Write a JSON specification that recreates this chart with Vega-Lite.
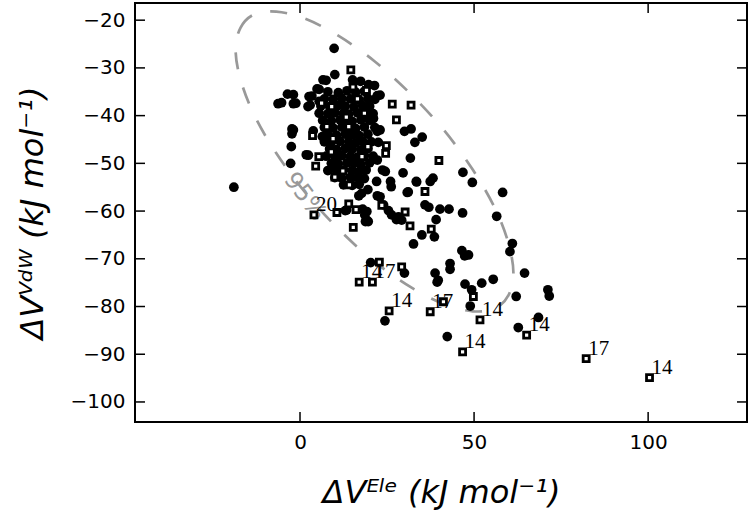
{
  "$schema": "https://vega.github.io/schema/vega-lite/v6.json",
  "width": 612,
  "height": 419,
  "autosize": "none",
  "padding": {"left": 135, "top": 3, "right": 3, "bottom": 92},
  "background": "white",
  "config": {
    "view": {"stroke": "black", "strokeWidth": 2},
    "axis": {"grid": false, "domain": false, "ticks": false,
      "labelFont": "DejaVu Sans", "labelFontSize": 20, "labelColor": "black", "labelPadding": 10,
      "titleFont": "DejaVu Sans", "titleFontSize": 32, "titleFontWeight": "normal", "titleColor": "black", "titleFontStyle": "italic"}
  },
  "datasets": {
    "circles": [
      {"x": 9.8, "y": -25.9}, {"x": 10.0, "y": -31.4}, {"x": 6.6, "y": -32.5}, {"x": 4.9, "y": -34.4}, {"x": -3.6, "y": -35.5},
      {"x": -1.9, "y": -35.6}, {"x": -6.3, "y": -37.5}, {"x": -1.9, "y": -37.5}, {"x": 2.6, "y": -36.0}, {"x": 2.3, "y": -38.1},
      {"x": 15.1, "y": -32.5}, {"x": 17.4, "y": -32.8}, {"x": 19.7, "y": -33.5}, {"x": 21.4, "y": -33.7}, {"x": 22.2, "y": -35.8},
      {"x": -2.3, "y": -42.8}, {"x": -2.3, "y": -43.8}, {"x": -2.5, "y": -46.5}, {"x": 1.8, "y": -48.2}, {"x": -2.7, "y": -50.0},
      {"x": -19.0, "y": -55.0}, {"x": 3.8, "y": -43.2}, {"x": 6.4, "y": -44.4}, {"x": 19.9, "y": -40.7}, {"x": 22.2, "y": -43.3},
      {"x": 30.0, "y": -43.3}, {"x": 31.9, "y": -42.8}, {"x": 35.1, "y": -44.5}, {"x": 33.0, "y": -45.6}, {"x": 31.7, "y": -48.9},
      {"x": 29.6, "y": -52.0}, {"x": 24.5, "y": -51.7}, {"x": 22.0, "y": -53.8}, {"x": 26.0, "y": -53.8}, {"x": 26.2, "y": -54.9},
      {"x": 30.8, "y": -56.1}, {"x": 33.4, "y": -53.8}, {"x": 37.4, "y": -53.8}, {"x": 38.2, "y": -53.1}, {"x": 46.8, "y": -51.9},
      {"x": 49.5, "y": -54.0}, {"x": 58.2, "y": -56.1}, {"x": 56.5, "y": -61.1}, {"x": 46.7, "y": -60.4}, {"x": 40.2, "y": -59.6},
      {"x": 42.8, "y": -59.6}, {"x": 35.9, "y": -58.7}, {"x": 37.0, "y": -59.2}, {"x": 39.1, "y": -61.8}, {"x": 22.2, "y": -56.8},
      {"x": 24.0, "y": -58.7}, {"x": 25.4, "y": -59.9}, {"x": 26.3, "y": -60.8}, {"x": 27.7, "y": -61.8}, {"x": 18.0, "y": -59.6},
      {"x": 18.6, "y": -60.8}, {"x": 18.8, "y": -62.2}, {"x": 16.9, "y": -56.8}, {"x": 19.5, "y": -55.5}, {"x": 13.0, "y": -59.9},
      {"x": 19.6, "y": -62.2}, {"x": 35.0, "y": -65.0}, {"x": 32.6, "y": -66.9}, {"x": 38.6, "y": -65.4}, {"x": 46.5, "y": -68.3},
      {"x": 48.4, "y": -69.2}, {"x": 47.3, "y": -69.4}, {"x": 43.1, "y": -71.0}, {"x": 43.1, "y": -72.2}, {"x": 38.8, "y": -73.0},
      {"x": 39.7, "y": -74.5}, {"x": 39.4, "y": -74.9}, {"x": 47.4, "y": -75.3}, {"x": 49.3, "y": -76.5}, {"x": 48.9, "y": -79.9},
      {"x": 52.2, "y": -75.1}, {"x": 55.5, "y": -74.3}, {"x": 61.0, "y": -66.8}, {"x": 60.3, "y": -68.5}, {"x": 64.5, "y": -73.0},
      {"x": 62.1, "y": -77.9}, {"x": 62.7, "y": -84.4}, {"x": 68.5, "y": -82.3}, {"x": 71.2, "y": -76.5}, {"x": 71.6, "y": -77.8},
      {"x": 42.3, "y": -86.3}, {"x": 24.4, "y": -83.0}, {"x": 20.3, "y": -70.8}, {"x": 30.0, "y": -73.0},
      {"x": 23.7, "y": -51.4}, {"x": 22.2, "y": -49.3}, {"x": 9.5, "y": -50.6}, {"x": 5.5, "y": -37.0}, {"x": 3.4, "y": -35.9},
      {"x": 5.5, "y": -34.5}, {"x": 7.5, "y": -32.6}, {"x": -5.3, "y": -37.3}, {"x": -1.2, "y": -37.4}, {"x": 2.9, "y": -37.8},
      {"x": 2.4, "y": -48.3}, {"x": -1.9, "y": -43.0}, {"x": 23.0, "y": -43.0}, {"x": 21.1, "y": -40.6}, {"x": 23.0, "y": -35.7},
      {"x": 28.3, "y": -61.2}, {"x": 29.2, "y": -61.9}, {"x": 33.5, "y": -53.9}, {"x": 31.1, "y": -56.0}, {"x": 23.0, "y": -57.0},
      {"x": 17.7, "y": -56.3}, {"x": 13.4, "y": -59.8}, {"x": 19.2, "y": -60.1}, {"x": 19.2, "y": -61.9},
      {"x": 8.0, "y": -35.0}, {"x": 11.0, "y": -35.2}, {"x": 13.5, "y": -34.8}, {"x": 16.0, "y": -35.1}, {"x": 18.5, "y": -34.9},
      {"x": 7.0, "y": -36.5}, {"x": 9.5, "y": -36.6}, {"x": 12.0, "y": -36.4}, {"x": 14.5, "y": -36.5}, {"x": 17.0, "y": -36.7}, {"x": 19.5, "y": -36.4}, {"x": 21.5, "y": -36.6},
      {"x": 6.0, "y": -38.0}, {"x": 8.5, "y": -38.1}, {"x": 11.0, "y": -37.9}, {"x": 13.0, "y": -38.0}, {"x": 15.5, "y": -38.2}, {"x": 18.0, "y": -37.9}, {"x": 20.0, "y": -38.1},
      {"x": 5.5, "y": -39.5}, {"x": 8.0, "y": -39.6}, {"x": 10.0, "y": -39.4}, {"x": 12.5, "y": -39.5}, {"x": 14.0, "y": -39.7}, {"x": 16.5, "y": -39.4}, {"x": 19.0, "y": -39.5}, {"x": 21.0, "y": -39.6},
      {"x": 6.5, "y": -41.0}, {"x": 9.0, "y": -41.1}, {"x": 11.5, "y": -40.9}, {"x": 13.5, "y": -41.0}, {"x": 15.0, "y": -41.2}, {"x": 17.5, "y": -40.9}, {"x": 20.0, "y": -41.0},
      {"x": 7.0, "y": -42.5}, {"x": 9.5, "y": -42.6}, {"x": 12.0, "y": -42.4}, {"x": 14.0, "y": -42.5}, {"x": 16.0, "y": -42.7}, {"x": 18.5, "y": -42.4}, {"x": 21.5, "y": -42.5},
      {"x": 8.0, "y": -44.0}, {"x": 10.5, "y": -44.1}, {"x": 13.0, "y": -43.9}, {"x": 15.0, "y": -44.0}, {"x": 17.0, "y": -44.2}, {"x": 19.5, "y": -43.9},
      {"x": 7.0, "y": -45.5}, {"x": 9.0, "y": -45.6}, {"x": 11.5, "y": -45.4}, {"x": 14.0, "y": -45.5}, {"x": 16.0, "y": -45.7}, {"x": 18.0, "y": -45.4}, {"x": 20.5, "y": -45.5}, {"x": 22.5, "y": -45.6},
      {"x": 8.5, "y": -47.0}, {"x": 10.5, "y": -47.1}, {"x": 13.0, "y": -46.9}, {"x": 15.0, "y": -47.0}, {"x": 17.5, "y": -47.2}, {"x": 19.5, "y": -46.9},
      {"x": 7.5, "y": -48.5}, {"x": 10.0, "y": -48.6}, {"x": 12.0, "y": -48.4}, {"x": 14.5, "y": -48.5}, {"x": 16.5, "y": -48.7}, {"x": 18.5, "y": -48.4}, {"x": 21.0, "y": -48.5},
      {"x": 9.0, "y": -50.0}, {"x": 11.0, "y": -50.1}, {"x": 13.5, "y": -49.9}, {"x": 15.5, "y": -50.0}, {"x": 17.5, "y": -50.2}, {"x": 20.0, "y": -49.9},
      {"x": 8.0, "y": -51.5}, {"x": 10.5, "y": -51.6}, {"x": 12.5, "y": -51.4}, {"x": 15.0, "y": -51.5}, {"x": 17.0, "y": -51.7}, {"x": 19.0, "y": -51.4},
      {"x": 10.0, "y": -53.0}, {"x": 12.0, "y": -53.1}, {"x": 14.5, "y": -52.9}, {"x": 16.5, "y": -53.0}, {"x": 18.5, "y": -53.2},
      {"x": 12.5, "y": -54.5}, {"x": 15.0, "y": -54.6}, {"x": 17.0, "y": -54.4}
    ],
    "squares": [
      {"x": 14.6, "y": -30.4}, {"x": 19.1, "y": -34.7}, {"x": 26.5, "y": -37.6}, {"x": 31.9, "y": -37.8}, {"x": 27.7, "y": -40.9},
      {"x": 24.8, "y": -46.3}, {"x": 24.6, "y": -47.9}, {"x": 39.9, "y": -49.4}, {"x": 3.6, "y": -44.2}, {"x": 5.4, "y": -48.6},
      {"x": 4.5, "y": -50.6}, {"x": 9.1, "y": -38.1}, {"x": 7.7, "y": -42.3}, {"x": 35.9, "y": -55.9}, {"x": 14.0, "y": -58.5},
      {"x": 16.1, "y": -59.7}, {"x": 10.6, "y": -60.3}, {"x": 4.0, "y": -60.8, "label": "20"}, {"x": 23.5, "y": -58.8}, {"x": 30.2, "y": -60.2},
      {"x": 15.3, "y": -63.4}, {"x": 31.6, "y": -63.1}, {"x": 37.7, "y": -63.8}, {"x": 22.8, "y": -70.7}, {"x": 29.2, "y": -71.7},
      {"x": 17.0, "y": -74.9, "label": "14"}, {"x": 20.8, "y": -74.9, "label": "17"}, {"x": 25.6, "y": -80.9, "label": "14"},
      {"x": 37.4, "y": -81.1, "label": "17"}, {"x": 41.2, "y": -79.0}, {"x": 49.8, "y": -77.9}, {"x": 51.7, "y": -82.8, "label": "14"},
      {"x": 65.1, "y": -86.0, "label": "14"}, {"x": 46.7, "y": -89.5, "label": "14"}, {"x": 82.2, "y": -90.9, "label": "17"},
      {"x": 100.4, "y": -94.9, "label": "14"}, {"x": 17.8, "y": -48.6}, {"x": 14.2, "y": -54.5}, {"x": 6.2, "y": -37.4},
      {"x": 15.2, "y": -34.0}, {"x": 9.5, "y": -44.8}, {"x": 9.0, "y": -47.6}, {"x": 14.0, "y": -42.3}, {"x": 18.5, "y": -39.5},
      {"x": 19.5, "y": -46.5}, {"x": 10.0, "y": -52.9}, {"x": 12.3, "y": -51.6}, {"x": 16.5, "y": -36.5}, {"x": 13.3, "y": -40.3}
    ],
    "ellipse": [
      {"i": 0, "x": -18.5, "y": -26.2}, {"i": 1, "x": -17.1, "y": -21.6}, {"i": 2, "x": -13.2, "y": -18.8}, {"i": 3, "x": -6.8, "y": -18.2},
      {"i": 4, "x": 1.5, "y": -19.7}, {"i": 5, "x": 11.1, "y": -23.3}, {"i": 6, "x": 21.4, "y": -28.6}, {"i": 7, "x": 31.7, "y": -35.4},
      {"i": 8, "x": 41.4, "y": -43.1}, {"i": 9, "x": 49.6, "y": -51.3}, {"i": 10, "x": 56.0, "y": -59.4}, {"i": 11, "x": 59.9, "y": -66.8},
      {"i": 12, "x": 61.3, "y": -73.0}, {"i": 13, "x": 59.9, "y": -77.6}, {"i": 14, "x": 56.0, "y": -80.4}, {"i": 15, "x": 49.6, "y": -81.0},
      {"i": 16, "x": 41.4, "y": -79.5}, {"i": 17, "x": 31.7, "y": -75.9}, {"i": 18, "x": 21.4, "y": -70.6}, {"i": 19, "x": 11.1, "y": -63.8},
      {"i": 20, "x": 1.5, "y": -56.1}, {"i": 21, "x": -6.8, "y": -47.9}, {"i": 22, "x": -13.2, "y": -39.8}, {"i": 23, "x": -17.1, "y": -32.4}
    ],
    "pct": [{"x": 1.4, "y": -57.0, "t": "95%"}],
    "xticks": [{"v": 0}, {"v": 50}, {"v": 100}],
    "yticks": [{"v": -20}, {"v": -30}, {"v": -40}, {"v": -50}, {"v": -60}, {"v": -70}, {"v": -80}, {"v": -90}, {"v": -100}]
  },
  "layer": [
    {
      "data": {"name": "ellipse"},
      "mark": {"type": "line", "interpolate": "cardinal-closed", "color": "#999999", "strokeWidth": 2.7, "strokeDash": [17, 19], "clip": true},
      "encoding": {
        "x": {"field": "x", "type": "quantitative", "scale": {"domain": [-47.4, 128.4], "nice": false, "zero": false},
          "axis": {"orient": "bottom", "values": [0, 50, 100], "title": "ΔVᴱˡᵉ    (kJ mol⁻¹)", "titlePadding": 25}},
        "y": {"field": "y", "type": "quantitative", "scale": {"domain": [-104.2, -16.4], "nice": false, "zero": false},
          "axis": {"orient": "left", "values": [-20, -30, -40, -50, -60, -70, -80, -90, -100], "title": "ΔVⱽᵈᵂ    (kJ mol⁻¹)", "titlePadding": 21}},
        "order": {"field": "i", "type": "quantitative"}
      }
    },
    {
      "data": {"name": "pct"},
      "mark": {"type": "text", "color": "#999999", "font": "DejaVu Sans", "fontSize": 24, "angle": 53, "align": "center", "baseline": "middle"},
      "encoding": {
        "x": {"field": "x", "type": "quantitative"},
        "y": {"field": "y", "type": "quantitative"},
        "text": {"field": "t"}
      }
    },
    {
      "data": {"name": "circles"},
      "mark": {"type": "circle", "color": "black", "size": 95, "opacity": 1},
      "encoding": {
        "x": {"field": "x", "type": "quantitative"},
        "y": {"field": "y", "type": "quantitative"}
      }
    },
    {
      "data": {"name": "squares"},
      "mark": {"type": "point", "shape": "square", "filled": true, "fill": "white", "stroke": "black", "strokeWidth": 2.8, "size": 36, "opacity": 1},
      "encoding": {
        "x": {"field": "x", "type": "quantitative"},
        "y": {"field": "y", "type": "quantitative"}
      }
    },
    {
      "data": {"name": "squares"},
      "transform": [{"filter": "isValid(datum.label)"}],
      "mark": {"type": "text", "color": "black", "font": "Liberation Serif", "fontSize": 21, "align": "left", "baseline": "alphabetic", "dx": 2, "dy": -4},
      "encoding": {
        "x": {"field": "x", "type": "quantitative"},
        "y": {"field": "y", "type": "quantitative"},
        "text": {"field": "label"}
      }
    },
    {
      "data": {"name": "yticks"},
      "mark": {"type": "rule", "color": "black", "strokeWidth": 1.5},
      "encoding": {"y": {"field": "v", "type": "quantitative"}, "x": {"datum": -47.4}, "x2": {"datum": -44.53}}
    },
    {
      "data": {"name": "yticks"},
      "mark": {"type": "rule", "color": "black", "strokeWidth": 1.5},
      "encoding": {"y": {"field": "v", "type": "quantitative"}, "x": {"datum": 128.4}, "x2": {"datum": 125.53}}
    },
    {
      "data": {"name": "xticks"},
      "mark": {"type": "rule", "color": "black", "strokeWidth": 1.5},
      "encoding": {"x": {"field": "v", "type": "quantitative"}, "y": {"datum": -104.2}, "y2": {"datum": -102.11}}
    },
    {
      "data": {"name": "xticks"},
      "mark": {"type": "rule", "color": "black", "strokeWidth": 1.5},
      "encoding": {"x": {"field": "v", "type": "quantitative"}, "y": {"datum": -16.4}, "y2": {"datum": -18.49}}
    }
  ]
}
